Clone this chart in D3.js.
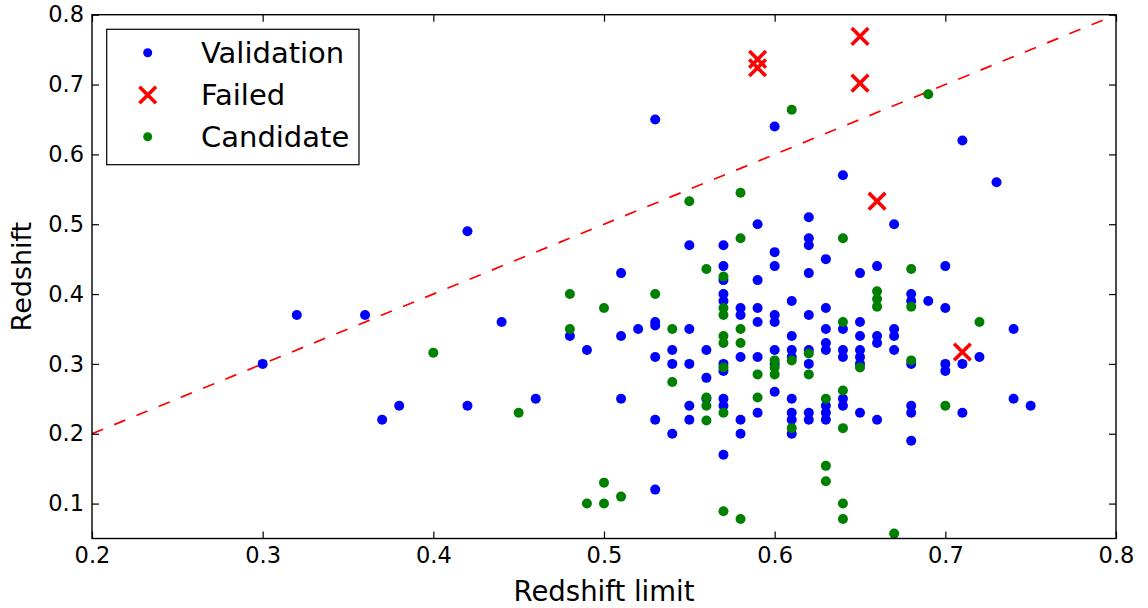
<!DOCTYPE html>
<html>
<head>
<meta charset="utf-8">
<script src="https://cdn.jsdelivr.net/npm/d3@7"></script>
<style>
  html, body { margin: 0; padding: 0; background: #fff; }
  svg { display: block; font-family: "DejaVu Sans", sans-serif; }
</style>
</head>
<body>
<svg id="chart" width="1148" height="608"></svg>
<script>
// ---- Data ----
const validationX = [
  0.30,0.32,0.36,0.37,0.38,0.42,0.42,0.44,0.46,0.48,0.49,
  0.51,0.51,0.51,0.52,
  0.53,0.53,0.53,0.53,0.53,0.53,
  0.54,0.54,0.54,
  0.55,0.55,0.55,0.55,0.55,
  0.56,0.56,0.56,
  0.57,0.57,0.57,0.57,0.57,0.57,0.57,0.57,0.57,0.57,
  0.58,0.58,0.58,0.58,0.58,
  0.59,0.59,0.59,0.59,0.59,0.59,
  0.60,0.60,0.60,0.60,0.60,0.60,0.60,0.60,
  0.61,0.61,0.61,0.61,0.61,0.61,0.61,0.61,
  0.62,0.62,0.62,0.62,0.62,0.62,0.62,0.62,0.62,
  0.63,0.63,0.63,0.63,0.63,0.63,0.63,0.63,
  0.64,0.64,0.64,0.64,0.64,0.64,
  0.65,0.65,0.65,0.65,0.65,0.65,0.65,
  0.66,0.66,0.66,0.66,
  0.67,0.67,0.67,0.67,
  0.68,0.68,0.68,0.68,0.68,0.68,
  0.69,
  0.70,0.70,0.70,0.70,
  0.71,0.71,0.71,
  0.72,0.73,0.74,0.74,0.75
];
const validationY = [
  0.30,0.37,0.37,0.22,0.24,0.49,0.24,0.36,0.25,0.34,0.32,
  0.43,0.34,0.25,0.35,
  0.65,0.36,0.355,0.31,0.22,0.12,
  0.32,0.30,0.20,
  0.47,0.35,0.30,0.24,0.22,
  0.32,0.28,0.25,
  0.47,0.44,0.42,0.40,0.39,0.30,0.29,0.25,0.24,0.17,
  0.38,0.37,0.31,0.22,0.20,
  0.50,0.42,0.38,0.36,0.31,0.23,
  0.64,0.46,0.44,0.37,0.36,0.32,0.30,0.26,
  0.39,0.34,0.32,0.31,0.25,0.23,0.22,0.20,
  0.51,0.48,0.47,0.43,0.37,0.32,0.30,0.23,0.22,
  0.45,0.38,0.35,0.33,0.32,0.24,0.23,0.22,
  0.57,0.35,0.32,0.31,0.25,0.24,
  0.43,0.36,0.34,0.32,0.31,0.30,0.23,
  0.44,0.34,0.33,0.22,
  0.50,0.35,0.34,0.32,
  0.40,0.39,0.30,0.24,0.23,0.19,
  0.39,
  0.44,0.38,0.30,0.29,
  0.62,0.30,0.23,
  0.31,0.56,0.35,0.25,0.24
];
const failedX = [0.59,0.59,0.65,0.65,0.66,0.71];
const failedY = [0.736,0.724,0.769,0.702,0.533,0.317];
const candidateX = [
  0.40,0.45,0.48,0.48,0.49,0.50,0.50,0.50,0.51,
  0.53,0.54,0.54,
  0.55,
  0.56,0.56,0.56,0.56,
  0.57,0.57,0.57,0.57,0.57,0.57,0.57,0.57,
  0.58,0.58,0.58,0.58,0.58,
  0.59,0.59,
  0.60,0.60,0.60,
  0.61,0.61,0.61,
  0.62,0.62,
  0.63,0.63,0.63,
  0.64,0.64,0.64,0.64,0.64,0.64,
  0.65,
  0.66,0.66,0.66,
  0.67,
  0.68,0.68,0.68,
  0.69,0.70,0.72
];
const candidateY = [
  0.316,0.23,0.40,0.35,0.10,0.38,0.13,0.10,0.11,
  0.40,0.35,0.274,
  0.533,
  0.436,0.252,0.24,0.219,
  0.425,0.38,0.37,0.34,0.33,0.295,0.23,0.089,
  0.545,0.48,0.35,0.33,0.078,
  0.285,0.252,
  0.305,0.295,0.285,
  0.664,0.305,0.208,
  0.315,0.285,
  0.25,0.154,0.132,
  0.48,0.36,0.262,0.208,0.10,0.078,
  0.295,
  0.404,0.393,0.382,
  0.057,
  0.436,0.382,0.305,
  0.686,0.24,0.36
];
const xTicks = [0.2,0.3,0.4,0.5,0.6,0.7,0.8];
const yTicks = [0.1,0.2,0.3,0.4,0.5,0.6,0.7,0.8];
const refLine = [[0.2,0.2],[0.8,0.8]];
const legendItems = ["Validation","Failed","Candidate"];

// ---- Layout ----
const svg = d3.select("#chart");
const L = 92, R = 1116, T = 14.7, B = 538.5;
const x = d3.scaleLinear().domain([0.2,0.8]).range([L,R]);
const y = d3.scaleLinear().domain([0.05,0.8]).range([B,T]);

svg.append("defs").append("clipPath").attr("id","clip")
  .append("rect").attr("x",L).attr("y",T).attr("width",R-L).attr("height",B-T);

const plot = svg.append("g").attr("clip-path","url(#clip)");

// reference dashed line
plot.append("path")
  .attr("d", d3.line().x(d=>x(d[0])).y(d=>y(d[1]))(refLine))
  .attr("fill","none").attr("stroke","#ff0000").attr("stroke-width",1.7)
  .attr("stroke-dasharray","12,12");

const zip = (a,b) => a.map((v,i)=>[v,b[i]]);

plot.selectAll("circle.val").data(zip(validationX,validationY)).enter()
  .append("circle").attr("class","val")
  .attr("cx",d=>x(d[0])).attr("cy",d=>y(d[1])).attr("r",5).attr("fill","#0000ff");

const xs = 8.3;
plot.selectAll("path.fail").data(zip(failedX,failedY)).enter()
  .append("path").attr("class","fail")
  .attr("d",d=>{const cx=x(d[0]), cy=y(d[1]);
    return `M${cx-xs},${cy-xs}L${cx+xs},${cy+xs}M${cx-xs},${cy+xs}L${cx+xs},${cy-xs}`;})
  .attr("stroke","#ff0000").attr("stroke-width",3.6).attr("fill","none");

plot.selectAll("circle.cand").data(zip(candidateX,candidateY)).enter()
  .append("circle").attr("class","cand")
  .attr("cx",d=>x(d[0])).attr("cy",d=>y(d[1])).attr("r",5).attr("fill","#008000");

// axes (ticks inward on all sides)
const tl = 7;
const fmt = d3.format(".1f");
const axB = svg.append("g").attr("transform",`translate(0,${B})`)
  .call(d3.axisBottom(x).tickValues(xTicks).tickFormat(fmt).tickSize(-tl).tickPadding(9));
const axT = svg.append("g").attr("transform",`translate(0,${T})`)
  .call(d3.axisTop(x).tickValues(xTicks).tickFormat("").tickSize(-tl));
const axL = svg.append("g").attr("transform",`translate(${L},0)`)
  .call(d3.axisLeft(y).tickValues(yTicks).tickFormat(fmt).tickSize(-tl).tickPadding(8));
const axR = svg.append("g").attr("transform",`translate(${R},0)`)
  .call(d3.axisRight(y).tickValues(yTicks).tickFormat("").tickSize(-tl));
[axB,axT,axL,axR].forEach(a=>{
  a.select(".domain").remove();
  a.selectAll(".tick line").attr("stroke","#000").attr("stroke-width",1.2);
  a.selectAll("text").attr("fill","#000").style("font-size","22.5px").style("font-family","DejaVu Sans");
});

svg.append("rect").attr("x",L).attr("y",T).attr("width",R-L).attr("height",B-T)
  .attr("fill","none").attr("stroke","#000").attr("stroke-width",1.4);

// axis labels
svg.append("text").attr("x",(L+R)/2).attr("y",601).attr("text-anchor","middle")
  .style("font-size","27.5px").text("Redshift limit");
svg.append("text").attr("transform",`translate(31,${(T+B)/2}) rotate(-90)`)
  .attr("text-anchor","middle").style("font-size","27px").text("Redshift");

// legend
const lg = svg.append("g");
lg.append("rect").attr("x",106.7).attr("y",29.3).attr("width",252.3).attr("height",135.4)
  .attr("fill","#fff").attr("stroke","#000").attr("stroke-width",1.2);
const ly = [52.7,95,136.7];
legendItems.forEach((name,i)=>{
  const cx = 147.7, cy = ly[i];
  if (i===1) {
    lg.append("path").attr("d",`M${cx-xs},${cy-xs}L${cx+xs},${cy+xs}M${cx-xs},${cy+xs}L${cx+xs},${cy-xs}`)
      .attr("stroke","#ff0000").attr("stroke-width",3.6);
  } else {
    lg.append("circle").attr("cx",cx).attr("cy",cy).attr("r",4.5)
      .attr("fill", i===0 ? "#0000ff" : "#008000");
  }
  lg.append("text").attr("x",201).attr("y",cy).attr("dy","0.36em")
    .style("font-size","29px").text(name);
});
</script>
</body>
</html>
